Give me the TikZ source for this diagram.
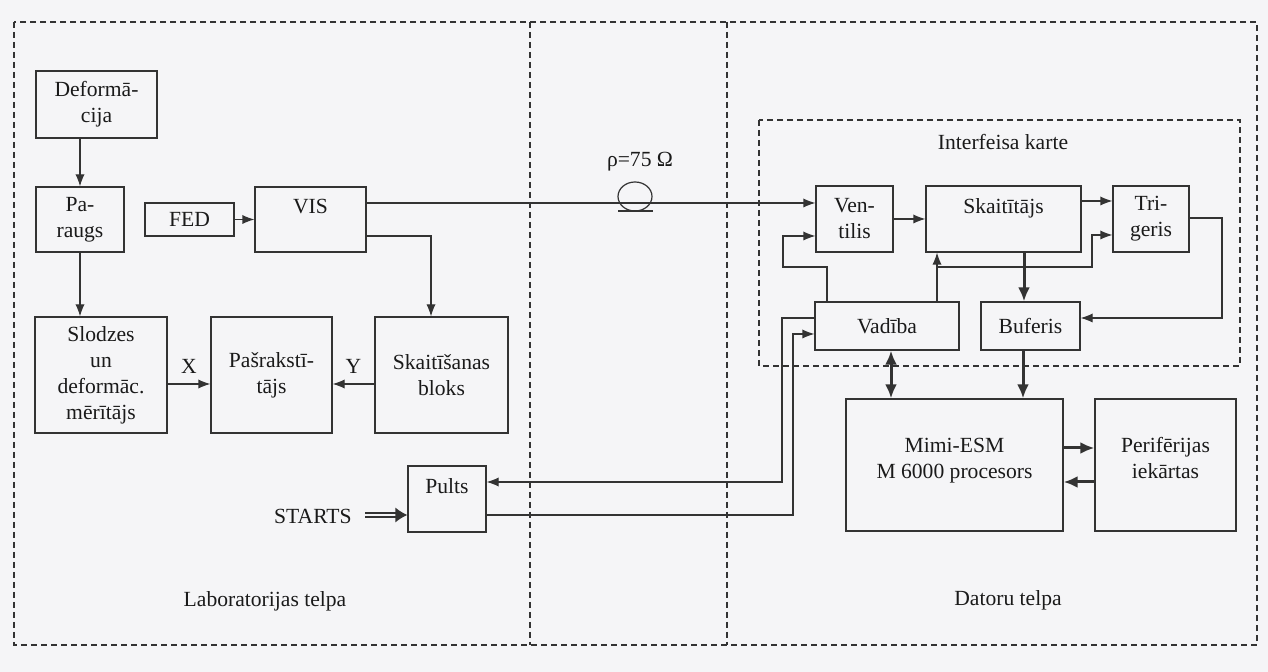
\documentclass[tikz,border=0pt]{standalone}
\usepackage{fontspec}
\setmainfont{Liberation Serif}
\usetikzlibrary{arrows.meta,calc}
\definecolor{ink}{HTML}{333333}
\definecolor{txt}{HTML}{1A1A1A}
\definecolor{bg}{HTML}{F5F5F7}
\begin{document}
\begin{tikzpicture}[x=0.5pt,y=-0.5pt,
  font=\fontsize{10.8}{13}\selectfont, text=txt,
  box/.style={draw=ink, line width=0.6pt, inner sep=0pt, align=center},
  wh/.style 2 args={minimum width=#1*0.5pt, minimum height=#2*0.5pt},
  conn/.style={draw=ink, line width=0.6pt},
  arr/.style={conn, -{Latex[length=6pt,width=4.6pt]}},
  bigarr/.style={draw=ink, line width=1.5pt, -{Latex[length=7pt,width=6pt]}},
  bigdbl/.style={draw=ink, line width=1.5pt, {Latex[length=7pt,width=6pt]}-{Latex[length=7pt,width=6pt]}},
  zone/.style={draw=ink, line width=0.6pt, dash pattern=on 3pt off 2pt},
  plain/.style={inner sep=0pt}
]
\fill[bg] (0,0) rectangle (1268,672);
\useasboundingbox (0,0) rectangle (1268,672);

% zones
\draw[zone] (14,22) rectangle (1257,645);
\draw[zone] (530,22) -- (530,645);
\draw[zone] (727,22) -- (727,645);
\draw[zone] (759,120) rectangle (1240,366);

% labels
\node[plain] (ik) at (1003,142) {Interfeisa karte};
\node[plain] (lt) at (265,601) {Laboratorijas telpa};
\node[plain] (dt) at (1008,600) {Datoru telpa};
\node[plain] (rho) at (640,162) {ρ=75 Ω};
\node[plain, anchor=east] (starts) at (352,516) {STARTS};

% boxes
\node[box, wh={121}{67}] (def) at (96.5,104.5) {Deformā-\\cija};
\node[box, wh={88}{65}] (par) at (80,219.5) {Pa-\\raugs};
\node[box, wh={89}{33}] (fed) at (189.5,219.5) {FED};
\node[box, wh={111}{65}] (vis) at (310.5,219.5) {VIS\\\mbox{}};
\node[box, wh={132}{116}] (slo) at (101,375) {Slodzes\\un\\deformāc.\\mērītājs};
\node[box, wh={121}{116}] (pas) at (271.5,375) {Pašrakstī-\\tājs};
\node[box, wh={133}{116}] (skb) at (441.5,375) {Skaitīšanas\\bloks};
\node[box, wh={78}{66}] (pul) at (447,499) {Pults\\\mbox{}};
\node[box, wh={77}{66}] (ven) at (854.5,219) {Ven-\\tilis};
\node[box, wh={155}{66}] (ska) at (1003.5,219) {Skaitītājs\\\mbox{}};
\node[box, wh={76}{66}] (tri) at (1151,219) {Tri-\\geris};
\node[box, wh={144}{48}] (vad) at (887,326) {Vadība};
\node[box, wh={99}{48}] (buf) at (1030.5,326) {Buferis};
\node[box, wh={217}{132}] (mim) at (954.5,465) {Mimi-ESM\\M 6000 procesors\\[-6pt]\mbox{}};
\node[box, wh={141}{132}] (per) at (1165.5,465) {Perifērijas\\iekārtas\\[-6pt]\mbox{}};

% left part
\draw[arr] (par.north |- def.south) -- (par.north);
\draw[arr] (par.south) -- (par.south |- slo.north);
\draw[arr] (fed.east) -- (fed.east -| vis.west);
\draw[arr] (vis.east |- 0,236) -- (431,236) -- (431,236 |- skb.north);
\draw[arr] (slo.east |- 0,384) -- node[plain, above=5pt] (xl) {X} (pas.west |- 0,384);
\draw[arr] (skb.west |- 0,384) -- node[plain, above=5pt] (yl) {Y} (pas.east |- 0,384);

% coax line
\draw[arr] (vis.east |- 0,203) -- (ven.west |- 0,203);
\draw[conn] (635,196.5) ellipse [x radius=17, y radius=14.5];
\draw[conn] (618,211) -- (653,211);

% interface card
\draw[arr] (ven.east) -- (ska.west);
\draw[arr] (ska.east |- 0,201) -- (tri.west |- 0,201);
\draw[arr] (tri.east |- 0,218) -- (1222,218) -- (1222,318) -- (buf.east |- 0,318);
\draw[bigarr] (ska.south -| 1024,0) -- (buf.north -| 1024,0);
\draw[arr] (vad.north -| 937,0) -- (ska.south -| 937,0);
\draw[arr] (937,267) -- (1092,267) -- (1092,235) -- (tri.west |- 0,235);
\draw[arr] (vad.north -| 827,0) -- (827,267) -- (783,267) -- (783,236) -- (ven.west |- 0,236);

% links to Pults
\draw[arr] (vad.west |- 0,318) -- (782,318) -- (782,482) -- (pul.east |- 0,482);
\draw[arr] (pul.east |- 0,515) -- (793,515) -- (793,334) -- (vad.west |- 0,334);

% STARTS double arrow
\coordinate (sa) at (398,515);
\draw[draw=ink, line width=0.7pt, double=bg, double distance=1.3pt] (starts.east |- sa) ++(13,0) -- (sa);
\draw[draw=ink, line width=0.6pt, -{Latex[length=6pt,width=7.5pt]}] ([xshift=-1pt]sa) -- (pul.west |- sa);

% computer
\draw[bigdbl] (vad.south -| 891,0) -- (mim.north -| 891,0);
\draw[bigarr] (buf.south -| 1023,0) -- (mim.north -| 1023,0);
\draw[bigarr] (mim.east |- 0,448) -- (per.west |- 0,448);
\draw[bigarr] (per.west |- 0,482) -- (mim.east |- 0,482);
\end{tikzpicture}
\end{document}
